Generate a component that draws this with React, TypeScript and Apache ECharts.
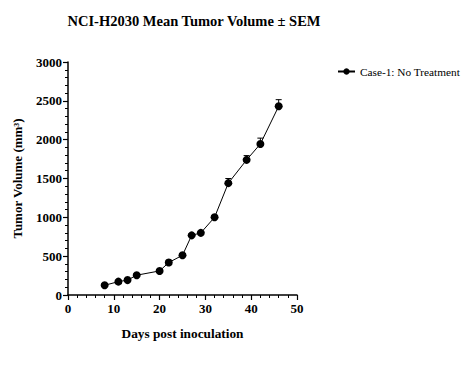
import React, { useEffect, useRef } from "react";
import * as echarts from "echarts";

const days = [8, 11, 13, 15, 20, 22, 25, 27, 29, 32, 35, 39, 42, 46];
const meanVolume = [125, 172, 192, 255, 310, 418, 512, 768, 800, 1000, 1440, 1740, 1945, 2430];
const semVolume = [12, 14, 14, 18, 20, 30, 22, 20, 20, 25, 60, 55, 75, 85];
const seriesName = "Case-1: No Treatment";
const titleText = "NCI-H2030 Mean Tumor Volume ± SEM";
const xAxisName = "Days post inoculation";
const yAxisName = "Tumor Volume (mm³)";

const FONT = "Liberation Serif";

export default function App() {
  const ref = useRef<HTMLDivElement>(null);
  useEffect(() => {
    document.body.style.margin = "0";
    if (!ref.current) return;
    const chart = echarts.init(ref.current, null, { renderer: "svg" });
    const lineData = days.map((d, i) => [d, meanVolume[i]]);
    const errData = days.map((d, i) => [d, meanVolume[i], meanVolume[i] + semVolume[i]]);
    chart.setOption({
      animation: false,
      backgroundColor: "#ffffff",
      title: {
        text: titleText,
        left: 189,
        top: 8,
        textAlign: "center",
        textStyle: { fontFamily: FONT, fontSize: 14.5, fontWeight: "bold", color: "#000" },
      },
      legend: {
        data: [seriesName],
        left: 332,
        top: 61,
        itemWidth: 17,
        itemHeight: 8,
        itemGap: 6,
        textStyle: { fontFamily: FONT, fontSize: 11.3, color: "#000" },
      },
      grid: { left: 68, right: 173, top: 62, bottom: 72 },
      xAxis: {
        type: "value",
        min: 0,
        max: 50,
        interval: 10,
        name: xAxisName,
        nameLocation: "middle",
        nameGap: 32,
        nameTextStyle: { fontFamily: FONT, fontSize: 13.3, fontWeight: "bold", color: "#000" },
        axisLine: { show: true, lineStyle: { color: "#000", width: 1.5 } },
        axisTick: { show: true, length: 5, lineStyle: { color: "#000", width: 1.2 } },
        minorTick: { show: true, splitNumber: 5, length: 3, lineStyle: { color: "#000", width: 1 } },
        axisLabel: {
          fontFamily: FONT, fontSize: 13, fontWeight: "bold", color: "#000", margin: 7,
          formatter: (v: number) => String(v),
        },
        splitLine: { show: false },
      },
      yAxis: {
        type: "value",
        min: 0,
        max: 3000,
        interval: 500,
        name: yAxisName,
        nameLocation: "middle",
        nameGap: 44,
        nameTextStyle: { fontFamily: FONT, fontSize: 13, fontWeight: "bold", color: "#000" },
        axisLine: { show: true, lineStyle: { color: "#000", width: 1.5 } },
        axisTick: { show: true, length: 5, lineStyle: { color: "#000", width: 1.2 } },
        minorTick: { show: true, splitNumber: 5, length: 3, lineStyle: { color: "#000", width: 1 } },
        axisLabel: {
          fontFamily: FONT, fontSize: 13, fontWeight: "bold", color: "#000", margin: 6,
          formatter: (v: number) => String(v),
        },
        splitLine: { show: false },
      },
      series: [
        {
          name: seriesName,
          type: "line",
          data: lineData,
          symbol: "circle",
          symbolSize: 8,
          itemStyle: { color: "#000" },
          lineStyle: { color: "#000", width: 1 },
          z: 3,
        },
        {
          name: "SEM",
          type: "custom",
          data: errData,
          z: 2,
          renderItem: (params: any, api: any) => {
            const x = api.value(0);
            const top = api.coord([x, api.value(2)]);
            const mid = api.coord([x, api.value(1)]);
            const hw = 3;
            return {
              type: "group",
              children: [
                {
                  type: "line",
                  shape: { x1: mid[0], y1: mid[1], x2: top[0], y2: top[1] },
                  style: { stroke: "#000", lineWidth: 1 },
                },
                {
                  type: "line",
                  shape: { x1: top[0] - hw, y1: top[1], x2: top[0] + hw, y2: top[1] },
                  style: { stroke: "#000", lineWidth: 1 },
                },
              ],
            };
          },
        },
      ],
    });
    return () => chart.dispose();
  }, []);
  return <div ref={ref} style={{ width: 470, height: 367 }} />;
}
